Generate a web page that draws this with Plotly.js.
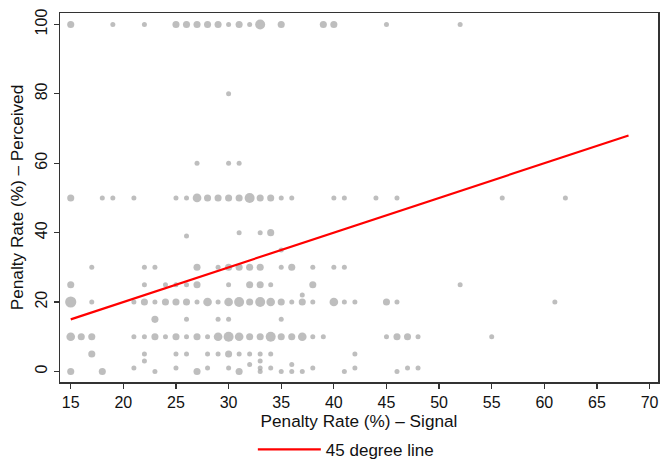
<!DOCTYPE html>
<html>
<head>
<meta charset="utf-8">
<script src="https://cdn.plot.ly/plotly-3.0.1.min.js"></script>
<style>
  html, body { margin: 0; padding: 0; background: #ffffff; }
  #chart { width: 660px; height: 464px; }
</style>
</head>
<body>
<div id="chart"></div>
<script>
// Signal vs. perceived penalty rates; n = number of respondents at each point
const signal = [
  // perceived = 100
  15, 19, 22, 25, 26, 27, 28, 29, 30, 31, 32, 33, 35, 39, 40, 45, 52,
  // 80
  30,
  // 60
  27, 30, 31,
  // 50
  15, 18, 19, 21, 25, 26, 27, 28, 29, 30, 31, 32, 33, 34, 35, 36, 40, 41, 44, 46, 56, 62,
  // 40
  31, 33, 34,
  // 39
  26,
  // 35
  35,
  // 30
  17, 22, 23, 27, 29, 30, 31, 32, 33, 35, 36, 38, 40, 41,
  // 25
  15, 22, 24, 25, 26, 27, 30, 32, 33, 34, 38, 52,
  // 22
  37,
  // 20
  15, 17, 21, 22, 23, 24, 25, 26, 27, 28, 29, 30, 31, 32, 33, 34, 35, 36, 37, 38, 40, 41, 42, 45, 46, 61,
  // 15
  23, 26, 29, 30, 35,
  // 10
  15, 16, 17, 21, 22, 23, 24, 25, 26, 27, 28, 29, 30, 31, 32, 33, 34, 35, 36, 37, 38, 39, 45, 46, 47, 48, 55,
  // 5
  17, 22, 25, 26, 28, 29, 30, 31, 32, 33, 34, 42,
  // 3
  22, 33,
  // 2
  32, 36,
  // 1
  21, 25, 28, 30, 33, 34, 38, 42, 47, 48,
  // 0
  15, 18, 23, 27, 31, 33, 35, 36, 37, 41, 46
];

const perceived = [
  100, 100, 100, 100, 100, 100, 100, 100, 100, 100, 100, 100, 100, 100, 100, 100, 100,
  80,
  60, 60, 60,
  50, 50, 50, 50, 50, 50, 50, 50, 50, 50, 50, 50, 50, 50, 50, 50, 50, 50, 50, 50, 50, 50,
  40, 40, 40,
  39,
  35,
  30, 30, 30, 30, 30, 30, 30, 30, 30, 30, 30, 30, 30, 30,
  25, 25, 25, 25, 25, 25, 25, 25, 25, 25, 25, 25,
  22,
  20, 20, 20, 20, 20, 20, 20, 20, 20, 20, 20, 20, 20, 20, 20, 20, 20, 20, 20, 20, 20, 20, 20, 20, 20, 20,
  15, 15, 15, 15, 15,
  10, 10, 10, 10, 10, 10, 10, 10, 10, 10, 10, 10, 10, 10, 10, 10, 10, 10, 10, 10, 10, 10, 10, 10, 10, 10, 10,
  5, 5, 5, 5, 5, 5, 5, 5, 5, 5, 5, 5,
  3, 3,
  2, 2,
  1, 1, 1, 1, 1, 1, 1, 1, 1, 1,
  0, 0, 0, 0, 0, 0, 0, 0, 0, 0, 0
];

const respondents = [
  2, 1, 1, 2, 2, 2, 2, 2, 1, 2, 1, 4, 2, 2, 2, 1, 1,
  1,
  1, 1, 1,
  2, 1, 1, 1, 1, 1, 3, 2, 2, 2, 2, 4, 2, 2, 1, 1, 1, 1, 1, 1, 1, 1,
  1, 1, 2,
  1,
  1,
  1, 1, 1, 2, 1, 2, 2, 2, 2, 1, 2, 1, 1, 1,
  2, 1, 1, 1, 1, 2, 1, 2, 2, 1, 2, 1,
  1,
  5, 1, 1, 2, 1, 2, 2, 2, 1, 3, 1, 3, 4, 2, 4, 3, 2, 1, 2, 1, 3, 1, 1, 2, 1, 1,
  2, 1, 1, 1, 1,
  3, 2, 2, 1, 1, 2, 1, 2, 1, 2, 1, 3, 4, 3, 2, 2, 4, 2, 2, 3, 1, 1, 1, 2, 2, 1, 1,
  2, 1, 1, 1, 1, 1, 2, 1, 1, 1, 1, 1,
  1, 1,
  1, 1,
  1, 1, 1, 1, 1, 1, 1, 1, 1, 1,
  2, 2, 1, 2, 2, 1, 1, 1, 1, 1, 1
];

// Reference line endpoints (signal = perceived)
const lineX = [15, 68];
const lineY = [15, 68];

const xTicks = [15, 20, 25, 30, 35, 40, 45, 50, 55, 60, 65, 70];
const yTicks = [0, 20, 40, 60, 80, 100];

const FONT = 'Liberation Sans, Arial, Helvetica, sans-serif';

// marker area grows with the number of respondents
const markerSize = respondents.map(n => 5 * Math.sqrt(n));

const scatter = {
  type: 'scatter',
  mode: 'markers',
  x: signal,
  y: perceived,
  marker: { size: markerSize, color: '#a3a3a3', line: { width: 0 } },
  showlegend: false,
  hoverinfo: 'x+y'
};

const diagonal = {
  type: 'scatter',
  mode: 'lines',
  x: lineX,
  y: lineY,
  name: '45 degree line',
  line: { color: '#ff0000', width: 2.2 },
  showlegend: true
};

const axisCommon = {
  showgrid: false,
  zeroline: false,
  showline: true,
  linecolor: '#333333',
  linewidth: 1.5,
  mirror: true,
  ticks: 'outside',
  ticklen: 5,
  tickwidth: 1.2,
  tickcolor: '#333333',
  tickfont: { family: FONT, size: 16, color: '#111111' }
};

const layout = {
  width: 660,
  height: 464,
  margin: { l: 60, r: 2, t: 13, b: 82, autoexpand: false },
  paper_bgcolor: '#ffffff',
  plot_bgcolor: '#ffffff',
  font: { family: FONT, color: '#111111' },
  xaxis: Object.assign({}, axisCommon, {
    range: [13.98, 70.8],
    tickvals: xTicks,
    ticktext: xTicks.map(String),
    title: { text: 'Penalty Rate (%) – Signal', font: { family: FONT, size: 17.2, color: '#111111' }, standoff: 3 }
  }),
  yaxis: Object.assign({}, axisCommon, {
    range: [-3.05, 103.3],
    tickvals: yTicks,
    ticktext: yTicks.map(String),
    tickangle: -90,
    title: { text: 'Penalty Rate (%) – Perceived', font: { family: FONT, size: 17.2, color: '#111111' }, standoff: 5 }
  }),
  legend: {
    orientation: 'h',
    x: 0.478,
    xanchor: 'center',
    y: -0.184,
    yanchor: 'middle',
    itemwidth: 63,
    font: { family: FONT, size: 17, color: '#111111' },
    bgcolor: 'rgba(0,0,0,0)'
  },
  showlegend: true
};

Plotly.newPlot('chart', [scatter, diagonal], layout, { displayModeBar: false, staticPlot: true });
</script>
</body>
</html>
